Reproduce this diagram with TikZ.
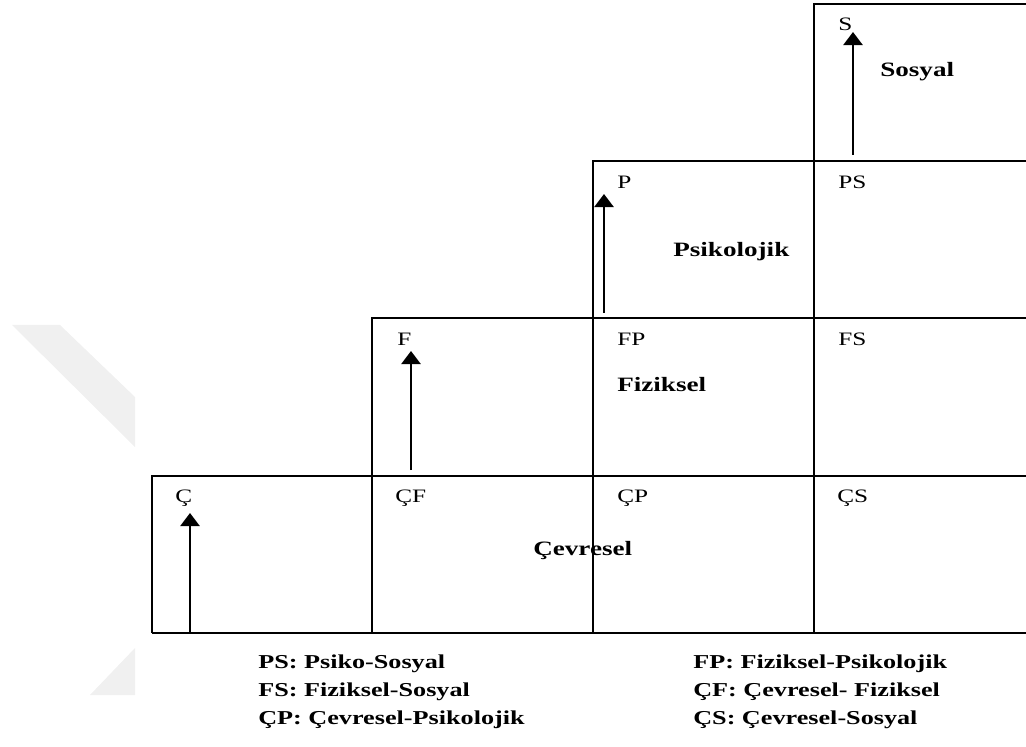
\documentclass[tikz,border=0pt]{standalone}
\usepackage{fontspec}
\setmainfont{Liberation Serif}[FakeStretch=1.33]
\usetikzlibrary{arrows.meta}

\tikzset{
  grid/.style={line width=1.4pt},
  uparrow/.style={line width=2pt,-{Triangle[width=4.8mm,length=3.3mm]}},
  cell/.style={anchor=base west,inner sep=0pt,font=\fontsize{13.5}{16}\selectfont},
  area/.style={anchor=base west,inner sep=0pt,font=\bfseries\fontsize{14.5}{17}\selectfont},
  key/.style={anchor=base west,inner sep=0pt,font=\bfseries\fontsize{14}{17}\selectfont}
}

\begin{document}
\begin{tikzpicture}[x=0.025cm,y=-0.025cm]
\useasboundingbox (0,0) rectangle (1026,747);
\clip (0,0) rectangle (1026,747);

%watermark
\fill[black!6] (12,325) -- (60,325) -- (135,397) -- (135,447) -- cycle;
\fill[black!6] (135,648) -- (135,695) -- (90,695) -- cycle;

%steps
\draw[grid] (814,633) -- (814,4) -- (1030,4);
\draw[grid] (593,633) -- (593,161) -- (1030,161);
\draw[grid] (372,633) -- (372,318) -- (1030,318);
\draw[grid] (152,633) -- (152,476) -- (1030,476);
\draw[grid] (152,633) -- (1030,633);

%cell labels
\node[cell] (s)  at (838,31)  {S};
\node[cell] (p)  at (617,189) {P};
\node[cell] (ps) at (838,189) {PS};
\node[cell] (f)  at (397,346) {F};
\node[cell] (fp) at (617,346) {FP};
\node[cell] (fs) at (838,346) {FS};
\node[cell] (c)  at (175,502) {Ç};
\node[cell] (cf) at (395,502) {ÇF};
\node[cell] (cp) at (617,502) {ÇP};
\node[cell] (cs) at (837,502) {ÇS};

%areas
\node[area] (sosyal)     at (880,77)  {Sosyal};
\node[area] (psikolojik) at (673,257) {Psikolojik};
\node[area] (fiziksel)   at (617,392) {Fiziksel};
\node[area] (cevresel)   at (533,555) {Çevresel};

%arrows
\coordinate (cbot) at (190,633); \coordinate (ctop) at (190,513);
\coordinate (fbot) at (411,470); \coordinate (ftop) at (411,351);
\coordinate (pbot) at (604,313); \coordinate (ptop) at (604,194);
\coordinate (sbot) at (853,155); \coordinate (stop) at (853,32);
\draw[uparrow] (cbot) -- (ctop);
\draw[uparrow] (fbot) -- (ftop);
\draw[uparrow] (pbot) -- (ptop);
\draw[uparrow] (sbot) -- (stop);

%legend
\node[key] (kps) at (258,668) {PS: Psiko-Sosyal};
\node[key] (kfs) at (258,696) {FS: Fiziksel-Sosyal};
\node[key] (kcp) at (258,724) {ÇP: Çevresel-Psikolojik};
\node[key] (kfp) at (693,668) {FP: Fiziksel-Psikolojik};
\node[key] (kcf) at (693,696) {ÇF: Çevresel- Fiziksel};
\node[key] (kcs) at (693,724) {ÇS: Çevresel-Sosyal};

\end{tikzpicture}
\end{document}
